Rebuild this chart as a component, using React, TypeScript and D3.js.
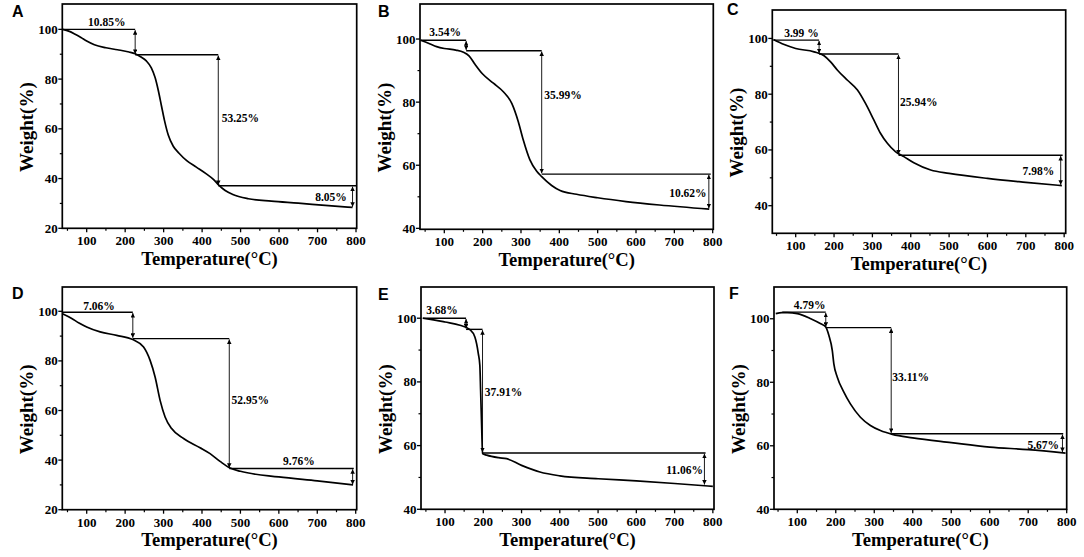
import React from 'react';
import * as d3 from 'd3';

// ---------- data ----------
const panelLetters = ['A', 'B', 'C', 'D', 'E', 'F'];

const tempA = [37, 55, 70, 85, 100, 120, 150, 180, 210, 226, 240, 255, 268, 278, 286, 294, 302, 312, 325, 340, 360, 385, 410, 430, 442, 460, 480, 520, 580, 650, 720, 791];
const weightA = [100, 99.2, 98, 96.7, 95.3, 93.8, 92.6, 91.8, 90.9, 90.2, 89, 87.3, 84.5, 80.5, 75.5, 69.5, 63.5, 57.5, 53, 50.2, 47.2, 44.6, 42, 39.6, 37.6, 35.2, 33.6, 31.9, 30.9, 30.1, 29.2, 28.4];

const tempB = [38, 60, 80, 100, 130, 150, 165, 180, 200, 228, 254, 276, 293, 306, 323, 341, 354, 380, 402, 445, 500, 574, 661, 791];
const weightB = [99.6, 98.6, 97.6, 97, 96.5, 95.8, 94.6, 92, 88.9, 86, 83.3, 79.6, 73.8, 68, 61.8, 58.1, 56.4, 53.6, 52, 50.8, 49.7, 48.5, 47.4, 46.1];

const tempC = [42, 70, 100, 148, 174, 191, 209, 235, 261, 282, 304, 321, 339, 360, 382, 408, 452, 500, 600, 700, 794];
const weightC = [99.6, 97.8, 96.4, 95.2, 93.8, 91.6, 88.6, 85, 81.5, 76.7, 70.7, 66, 62.4, 59.4, 57.6, 55.4, 52.8, 51.6, 49.8, 48.4, 47.2];

const tempD = [37, 60, 80, 100, 135, 178, 220, 248, 265, 278, 291, 304, 321, 352, 395, 421, 447, 473, 500, 600, 700, 793];
const weightD = [99, 97.2, 95.3, 93.7, 91.7, 90.3, 88.6, 85.6, 80.2, 73.5, 64.1, 57.4, 52.7, 48.7, 45, 42.6, 39.5, 36.8, 35.5, 33.2, 31.6, 30];

const tempE = [42, 70, 100, 139, 165, 178, 187, 191, 193, 196, 198, 209, 240, 261, 300, 348, 400, 500, 600, 700, 800];
const weightE = [100, 99.5, 98.8, 97.8, 96.4, 94.1, 88.9, 85.2, 77.4, 64.8, 57.5, 57, 56.2, 55.9, 53.8, 51.7, 50.5, 49.6, 48.9, 48.1, 47.2];

const tempF = [44, 60, 74, 100, 135, 161, 174, 182, 191, 195, 204, 221, 238, 264, 290, 316, 347, 400, 500, 600, 700, 797];
const weightF = [101.6, 101.9, 101.9, 101.6, 100, 98.4, 97.4, 94.8, 90, 85.8, 81.6, 76.9, 73.2, 69, 66.4, 64.8, 63.6, 62.5, 61, 59.6, 58.8, 57.7];

// step annotation: horizontal levels (weight %) and temperatures of the vertical arrows
const levelsA = [100, 89.8, 37.1, 28.3];
const stepTempsA = [226, 442, 791];
const lineRangeA = [37, 800];
const labelsA = ['10.85%', '53.25%', '8.05%'];
const labelTempsA = [152, 451, 776];
const labelWeightsA = [102.9, 64.2, 32.7];

const levelsB = [99.6, 96.3, 57.2, 46.1];
const stepTempsB = [157, 354, 790];
const lineRangeB = [38, 795];
const labelsB = ['3.54%', '35.99%', '10.62%'];
const labelTempsB = [102, 361, 784];
const labelWeightsB = [102.1, 82.3, 51.3];

const levelsC = [99.4, 94.4, 58.1, 47.2];
const stepTempsC = [161, 368, 791];
const lineRangeC = [42, 796];
const labelsC = ['3.99 %', '25.94%', '7.98%'];
const labelTempsC = [115, 372, 774];
const labelWeightsC = [101.8, 77.3, 52.6];

const levelsD = [99.6, 89, 36.6, 29.8];
const stepTempsD = [220, 471, 792];
const lineRangeD = [37, 795];
const labelsD = ['7.06%', '52.95%', '9.76%'];
const labelTempsD = [132, 477, 652];
const labelWeightsD = [102, 64.1, 39.5];

const levelsE = [100, 96.5, 57.7, 47.5];
const stepTempsE = [155, 198, 778];
const lineRangeE = [42, 781];
const labelsE = ['3.68%', '37.91%', '11.06%'];
const labelTempsE = [92, 204, 774];
const labelWeightsE = [102.5, 76.9, 52.5];

const levelsF = [102.1, 97.2, 63.8, 57.8];
const stepTempsF = [174, 344, 789];
const lineRangeF = [61, 791];
const labelsF = ['4.79%', '33.11%', '5.67%'];
const labelTempsF = [132, 347, 780];
const labelWeightsF = [104.2, 81.6, 60.1];

const xTicks = [100, 200, 300, 400, 500, 600, 700, 800];
const xMinorTicks = [50, 150, 250, 350, 450, 550, 650, 750];
const yTicks20 = [20, 40, 60, 80, 100];
const yMinor20 = [30, 50, 70, 90];
const yTicks40 = [40, 60, 80, 100];
const yMinor40 = [50, 70, 90];
const yMinor30 = [50, 70, 90];

const xDomains = [[36.6, 801.8], [36.6, 801.6], [39, 804], [36.5, 802.6], [37.2, 803], [39.5, 800]];
const yDomains = [[20, 110.2], [39.7, 111.1], [30.1, 110.2], [20, 109.8], [40, 109.8], [40, 110]];

// ---------- layout ----------
const frames = [
  { l: 62.3, t: 4, r: 356.7, b: 228.3 },
  { l: 420, t: 4, r: 713.3, b: 229.3 },
  { l: 772.3, t: 10, r: 1065.7, b: 233.3 },
  { l: 62.3, t: 287, r: 356.7, b: 509.7 },
  { l: 421, t: 287, r: 714, b: 509.3 },
  { l: 774, t: 287, r: 1066.7, b: 509.3 },
];
const letterPos = [[12, 17], [378, 17], [727, 15], [12, 299], [378, 300], [729, 299]];
const labelAnchors = [
  ['middle', 'start', 'end'],
  ['middle', 'start', 'end'],
  ['middle', 'start', 'end'],
  ['middle', 'start', 'middle'],
  ['middle', 'start', 'end'],
  ['middle', 'start', 'end'],
];

const panels = [
  { t: tempA, w: weightA, lv: levelsA, st: stepTempsA, lr: lineRangeA, lab: labelsA, lt: labelTempsA, lw: labelWeightsA, yt: yTicks20, ym: yMinor20 },
  { t: tempB, w: weightB, lv: levelsB, st: stepTempsB, lr: lineRangeB, lab: labelsB, lt: labelTempsB, lw: labelWeightsB, yt: yTicks40, ym: yMinor40 },
  { t: tempC, w: weightC, lv: levelsC, st: stepTempsC, lr: lineRangeC, lab: labelsC, lt: labelTempsC, lw: labelWeightsC, yt: yTicks40, ym: yMinor30 },
  { t: tempD, w: weightD, lv: levelsD, st: stepTempsD, lr: lineRangeD, lab: labelsD, lt: labelTempsD, lw: labelWeightsD, yt: yTicks20, ym: yMinor20 },
  { t: tempE, w: weightE, lv: levelsE, st: stepTempsE, lr: lineRangeE, lab: labelsE, lt: labelTempsE, lw: labelWeightsE, yt: yTicks40, ym: yMinor40 },
  { t: tempF, w: weightF, lv: levelsF, st: stepTempsF, lr: lineRangeF, lab: labelsF, lt: labelTempsF, lw: labelWeightsF, yt: yTicks40, ym: yMinor40 },
];

const SERIF = '"Liberation Serif", "Times New Roman", serif';
const SANS = '"Liberation Sans", Arial, sans-serif';

function Panel({ i }: { i: number }) {
  const p = panels[i];
  const f = frames[i];
  const x = d3.scaleLinear().domain(xDomains[i]).range([f.l, f.r]);
  const y = d3.scaleLinear().domain(yDomains[i]).range([f.b, f.t]);
  const pts = p.t.map((t, k) => [t, p.w[k]] as [number, number]);
  const line = d3
    .line<[number, number]>()
    .x((d) => x(d[0]))
    .y((d) => y(d[1]))
    .curve(d3.curveMonotoneX);

  const hStarts = [p.lr[0], p.st[0], p.st[1]];
  const hEnds = [p.st[0], p.st[1], p.lr[1]];

  return (
    <g>
      {/* curve */}
      <path d={line(pts) || ''} fill="none" stroke="#000" strokeWidth={1.7} />
      {/* horizontal step lines */}
      {hStarts.map((s, k) => (
        <line key={'h' + k} x1={x(s)} x2={x(hEnds[k])} y1={y(p.lv[k])} y2={y(p.lv[k])} stroke="#000" strokeWidth={1.4} />
      ))}
      {/* vertical arrows */}
      {p.st.map((t, k) => (
        <line
          key={'a' + k}
          x1={x(t)}
          x2={x(t)}
          y1={y(p.lv[k]) + 0.8}
          y2={y(p.lv[k + 1]) - 0.8}
          stroke="#000"
          strokeWidth={0.9}
          markerStart="url(#arr)"
          markerEnd="url(#arr)"
        />
      ))}
      {/* labels */}
      {p.lab.map((s, k) => (
        <text
          key={'l' + k}
          x={x(p.lt[k])}
          y={y(p.lw[k])}
          dy="0.35em"
          textAnchor={labelAnchors[i][k] as any}
          fontFamily={SERIF}
          fontWeight="bold"
          fontSize={11.5}
        >
          {s}
        </text>
      ))}
      {/* frame */}
      <rect x={f.l} y={f.t} width={f.r - f.l} height={f.b - f.t} fill="none" stroke="#000" strokeWidth={1.7} />
      {/* x ticks */}
      {xTicks.map((t) => (
        <g key={'xt' + t}>
          <line x1={x(t)} x2={x(t)} y1={f.b} y2={f.b + 4} stroke="#000" strokeWidth={1.3} />
          <text x={x(t)} y={f.b + 17} textAnchor="middle" fontFamily={SERIF} fontWeight="bold" fontSize={13}>
            {t}
          </text>
        </g>
      ))}
      {xMinorTicks.map((t) => (
        <line key={'xm' + t} x1={x(t)} x2={x(t)} y1={f.b} y2={f.b + 2.5} stroke="#000" strokeWidth={1.2} />
      ))}
      {/* y ticks */}
      {p.yt.map((v) => (
        <g key={'yt' + v}>
          <line x1={f.l - 4} x2={f.l} y1={y(v)} y2={y(v)} stroke="#000" strokeWidth={1.3} />
          <text x={f.l - 4.5} y={y(v)} dy="0.35em" textAnchor="end" fontFamily={SERIF} fontWeight="bold" fontSize={13}>
            {v}
          </text>
        </g>
      ))}
      {p.ym.map((v) => (
        <line key={'ym' + v} x1={f.l - 2.5} x2={f.l} y1={y(v)} y2={y(v)} stroke="#000" strokeWidth={1.2} />
      ))}
      {/* axis titles */}
      <text
        x={(f.l + f.r) / 2}
        y={f.b + 36.5}
        textAnchor="middle"
        fontFamily={SERIF}
        fontWeight="bold"
        fontSize={18.6}
      >
        Temperature(°C)
      </text>
      <text
        transform={`translate(${f.l - 29.5},${(f.t + f.b) / 2 + 11}) rotate(-90)`}
        textAnchor="middle"
        fontFamily={SERIF}
        fontWeight="bold"
        fontSize={19}
      >
        Weight(%)
      </text>
      {/* panel letter */}
      <text x={letterPos[i][0]} y={letterPos[i][1]} fontFamily={SANS} fontWeight="bold" fontSize={16}>
        {panelLetters[i]}
      </text>
    </g>
  );
}

export default function App() {
  return (
    <svg
      width={1084}
      height={557}
      viewBox="0 0 1084 557"
      style={{ position: 'absolute', left: 0, top: 0, display: 'block', background: '#fff' }}
    >
      <defs>
        <marker
          id="arr"
          viewBox="0 0 8 8"
          refX={8}
          refY={4}
          markerWidth={4.5}
          markerHeight={4.5}
          markerUnits="userSpaceOnUse"
          orient="auto-start-reverse"
        >
          <path d="M0,0 L8,4 L0,8 Z" fill="#000" />
        </marker>
      </defs>
      <rect x={0} y={0} width={1084} height={557} fill="#fff" />
      {panels.map((_, i) => (
        <Panel key={i} i={i} />
      ))}
    </svg>
  );
}
